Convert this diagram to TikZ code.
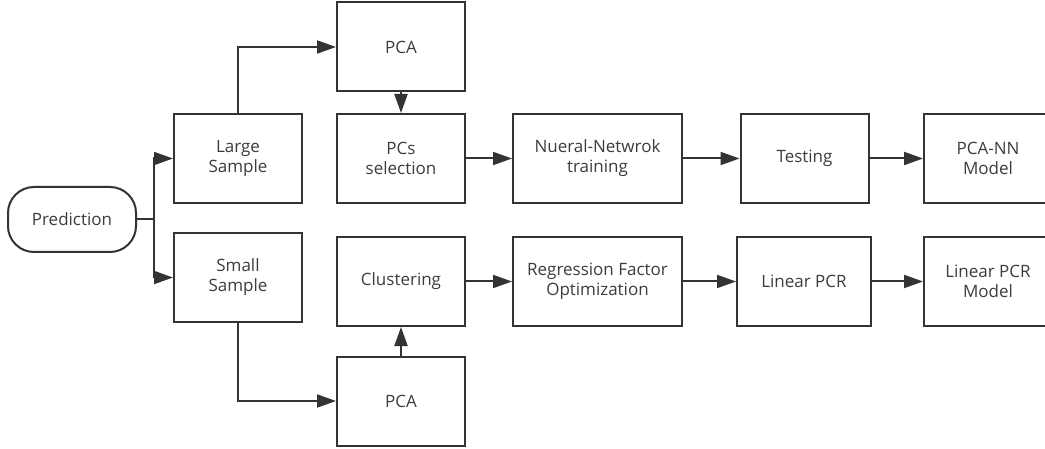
\documentclass[tikz,border=0pt]{standalone}
\usepackage{fontspec}
\setmainfont{Open Sans}
\usetikzlibrary{arrows.meta}
\definecolor{lineg}{RGB}{51,51,51}
\definecolor{textg}{RGB}{60,60,60}

\begin{document}
\begin{tikzpicture}[x=1pt, y=-1pt,
    box/.style={draw=lineg, line width=2pt, minimum width=128pt, minimum height=89pt,
        align=center, text=textg, font=\fontsize{17}{20}\selectfont},
    widebox/.style={box, minimum width=169pt},
    term/.style={box, rounded corners=26pt, minimum height=65pt},
    flow/.style={draw=lineg, line width=2pt, -{Triangle[length=19pt, width=13pt]}}]
    \useasboundingbox (0, 0) rectangle (1045, 449);

    % Start and the two sample branches.
    \node[term] (pred) at (72, 219.5) {Prediction};
    \node[box] (large) at (238, 158.5) {Large\\Sample};
    \node[box] (small) at (238, 277.5) {Small\\Sample};
    \coordinate (split) at (154, 219.5);

    % Upper chain: PCA with neural network.
    \node[box] (pcaT) at (401, 47) {PCA};
    \node[box] (pcs) at (401, 158.5) {PCs\\selection};
    \node[widebox] (nn) at (597.5, 158.5) {Nueral-Netwrok\\training};
    \node[box] (test) at (804.5, 158.5) {Testing};
    \node[box] (pcann) at (988, 158.5) {PCA-NN\\Model};

    % Lower chain: PCA with linear regression.
    \node[box] (clus) at (401, 281.5) {Clustering};
    \node[widebox] (reg) at (597.5, 281.5) {Regression Factor\\Optimization};
    \node[box, minimum width=134pt] (lpcr) at (804, 281.5) {Linear PCR};
    \node[box] (lpcrm) at (988, 281.5) {Linear PCR\\Model};
    \node[box] (pcaB) at (401, 401) {PCA};

    % Connectors.
    \draw[draw=lineg, line width=2pt] (pred.east) -- (split);
    \draw[flow] (split) |- (large.west);
    \draw[flow] (split) |- (small.west);
    \draw[flow] (large.north) |- (pcaT.west);
    \draw[flow] (pcaT) -- (pcs);
    \draw[flow] (pcs) -- (nn);
    \draw[flow] (nn) -- (test);
    \draw[flow] (test) -- (pcann);
    \draw[flow] (small.south) |- (pcaB.west);
    \draw[flow] (pcaB) -- (clus);
    \draw[flow] (clus) -- (reg);
    \draw[flow] (reg) -- (lpcr);
    \draw[flow] (lpcr) -- (lpcrm);
\end{tikzpicture}
\end{document}
